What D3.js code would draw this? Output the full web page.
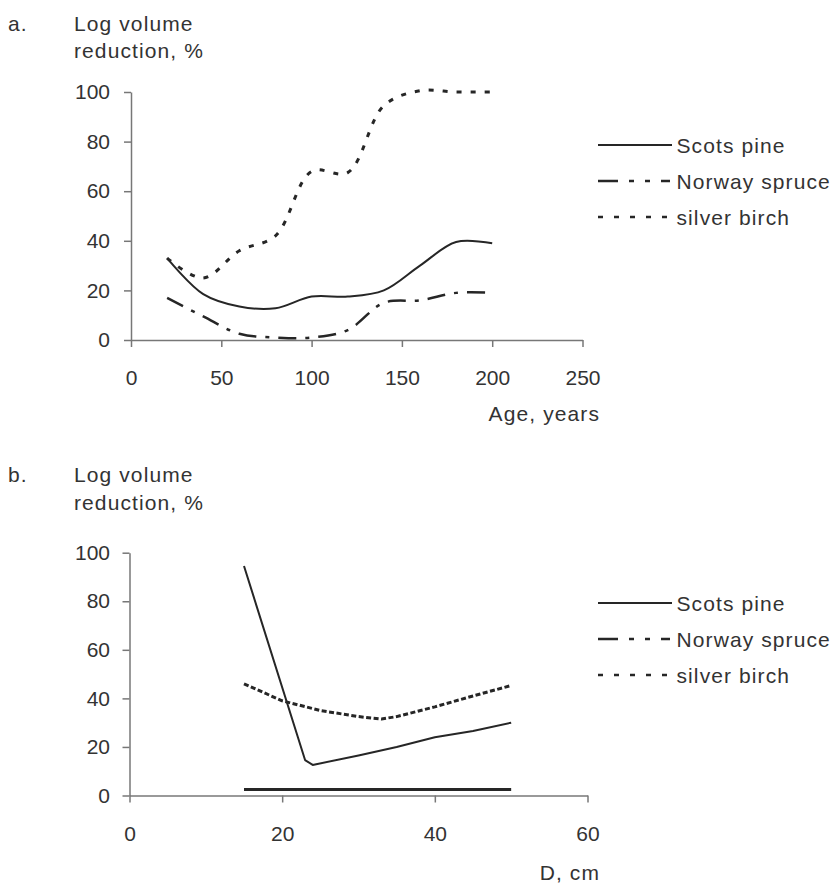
<!DOCTYPE html>
<html>
<head>
<meta charset="utf-8">
<script src="https://cdn.jsdelivr.net/npm/d3@7"></script>
<style>
  html, body { margin: 0; padding: 0; background: #fff; }
  svg { display: block; }
  text { font-family: "Liberation Sans", Arial, sans-serif; fill: #333; }
  .label { letter-spacing: 1.1px; }
</style>
</head>
<body>
<svg id="chart" width="839" height="884"></svg>
<script>
// ---- Panel a: reduction by stand age ----
const ageA = [20, 40, 60, 80, 100, 120, 140, 160, 180, 200];
const pineA = [33, 18.5, 13.5, 12.8, 17.5, 17.5, 20, 30, 39.5, 39];
const spruceA = [17, 9.5, 2.5, 1, 1, 4, 15, 16, 19, 19];
const birchA = [33, 25, 36, 42, 68, 67.5, 94.5, 100.5, 100, 100];
const xTicksA = [0, 50, 100, 150, 200, 250];

// ---- Panel b: reduction by diameter ----
const dPine = [15, 23, 24, 30, 35, 40, 45, 50];
const pineB = [94.5, 14.6, 12.6, 16.5, 20, 24, 26.6, 30];
const dSpruce = [15, 50];
const spruceB = [2.5, 2.5];
const dBirch = [15, 20, 25, 30, 33, 35, 40, 45, 50];
const birchB = [46, 39, 35, 32.5, 31.5, 32.5, 36.5, 41, 45.3];
const xTicksB = [0, 20, 40, 60];

const yTicks = [0, 20, 40, 60, 80, 100];
const seriesNames = ["Scots pine", "Norway spruce", "silver birch"];

const svg = d3.select("#chart");
svg.append("rect").attr("width", 839).attr("height", 884).attr("fill", "#fff");

const ink = "#262626";
const axisColor = "#777";
const fontSize = 21;

function styleAxis(g) {
  g.select(".domain").attr("stroke", axisColor).attr("stroke-width", 1.5);
  g.selectAll(".tick line").attr("stroke", axisColor).attr("stroke-width", 1.5);
  g.selectAll(".tick text")
    .attr("fill", "#333")
    .style("font-size", fontSize + "px")
    .style("font-family", '"Liberation Sans", Arial, sans-serif');
}

function addText(x, y, str, anchor) {
  return svg.append("text")
    .attr("class", "label")
    .attr("x", x).attr("y", y)
    .attr("text-anchor", anchor || "start")
    .style("font-size", fontSize + "px")
    .text(str);
}

function panel(opts) {
  const { x, y, xTicks, letter, headerY, xTitle, xTitleY, yPad, xPad, series, legendY, legendGap } = opts;

  // header: panel letter and y title on two lines
  addText(8, headerY, letter);
  addText(74, headerY, "Log volume");
  addText(74, headerY + 27.5, "reduction, %");

  const gy = svg.append("g")
    .attr("transform", `translate(${x.range()[0]},0)`)
    .call(d3.axisLeft(y).tickValues(yTicks).tickSize(7).tickSizeOuter(0).tickPadding(yPad).tickFormat(d3.format("d")));
  styleAxis(gy);

  const gx = svg.append("g")
    .attr("transform", `translate(0,${y(0)})`)
    .call(d3.axisBottom(x).tickValues(xTicks).tickSize(7).tickSizeOuter(0).tickPadding(xPad).tickFormat(d3.format("d")));
  styleAxis(gx);

  addText(600, xTitleY, xTitle, "end");

  series.forEach(s => {
    const pts = s.xs.map((v, i) => [x(v), y(s.ys[i])]);
    svg.append("path")
      .attr("d", d3.line().curve(s.curve)(pts))
      .attr("fill", "none")
      .attr("stroke", ink)
      .attr("stroke-width", s.width)
      .attr("stroke-dasharray", s.dash || null)
      .attr("stroke-linejoin", "round");
  });

  // legend
  const legendDash = [null, "20,11,5,11,5,11,9,10", "5,11"];
  const legendWidth = [2, 2.5, 2.5];
  seriesNames.forEach((name, i) => {
    const ly = legendY + i * legendGap;
    svg.append("line")
      .attr("x1", 598).attr("x2", 672).attr("y1", ly).attr("y2", ly)
      .attr("stroke", ink).attr("stroke-width", legendWidth[i])
      .attr("stroke-dasharray", legendDash[i]);
    addText(676.5, ly + 7.5, name);
  });
}

const xA = d3.scaleLinear().domain([0, 250]).range([131, 582.5]);
const yA = d3.scaleLinear().domain([0, 100]).range([340, 92]);
panel({
  x: xA, y: yA, xTicks: xTicksA, letter: "a.", headerY: 30.5,
  xTitle: "Age, years", xTitleY: 420.5, yPad: 14, xPad: 23,
  legendY: 145, legendGap: 36,
  series: [
    { xs: ageA, ys: pineA, curve: d3.curveCatmullRom, width: 2 },
    { xs: ageA, ys: spruceA, curve: d3.curveCatmullRom, width: 2.5, dash: "18,9,4,9" },
    { xs: ageA, ys: birchA, curve: d3.curveCatmullRom, width: 3, dash: "5,9" }
  ]
});

const xB = d3.scaleLinear().domain([0, 60]).range([129.5, 587.5]);
const yB = d3.scaleLinear().domain([0, 100]).range([795.5, 552.7]);
panel({
  x: xB, y: yB, xTicks: xTicksB, letter: "b.", headerY: 482,
  xTitle: "D, cm", xTitleY: 880, yPad: 12.5, xPad: 23.5,
  legendY: 603, legendGap: 36,
  series: [
    { xs: dPine, ys: pineB, curve: d3.curveLinear, width: 2 },
    { xs: dSpruce, ys: spruceB, curve: d3.curveLinear, width: 3 },
    { xs: dBirch, ys: birchB, curve: d3.curveLinear, width: 3, dash: "5,2.5" }
  ]
});
</script>
</body>
</html>
